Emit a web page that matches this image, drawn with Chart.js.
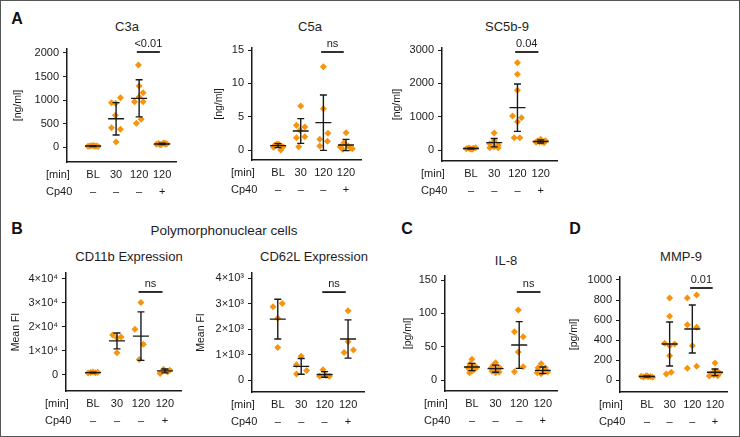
<!DOCTYPE html>
<html>
<head>
<meta charset="utf-8">
<script src="https://cdn.jsdelivr.net/npm/chart.js@4.4.1/dist/chart.umd.min.js"></script>
<style>
  body { margin: 0; background: #fff; font-family: "Liberation Sans", Arial, Helvetica, sans-serif; }
  #fig { position: relative; width: 740px; height: 437px; box-sizing: border-box; border: 1px solid #555; overflow: hidden; }
  .lbl { position: absolute; transform: translate(-50%, -50%); white-space: nowrap; color: #1e1e1e; font-size: 13px; }
  .letter { position: absolute; transform: translate(-50%, -50%); font-weight: bold; font-size: 16px; color: #111; }
</style>
</head>
<body>
<div id="fig">
  <div class="letter" style="left:16px;top:18px">A</div>
  <div class="letter" style="left:16px;top:228px">B</div>
  <div class="letter" style="left:406px;top:228px">C</div>
  <div class="letter" style="left:574px;top:228px">D</div>
  <div class="lbl" style="left:126px;top:25px">C3a</div>
  <div class="lbl" style="left:309px;top:25px">C5a</div>
  <div class="lbl" style="left:506px;top:25px">SC5b-9</div>
  <div class="lbl" style="left:223px;top:229px;font-size:13.5px">Polymorphonuclear cells</div>
  <div class="lbl" style="left:128px;top:255px">CD11b Expression</div>
  <div class="lbl" style="left:313px;top:255px">CD62L Expression</div>
  <div class="lbl" style="left:505px;top:259px">IL-8</div>
  <div class="lbl" style="left:680px;top:255px">MMP-9</div>
</div>
<script>
// categories shared by every panel
const categories = ['BL', '30', '120', '120'];
const cp40 = ['–', '–', '–', '+'];

// C3a [ng/ml]
const c3aValues = [
  [15, 20, 25, 30, 18, 22, 10, 28],
  [943, 930, 1049, 674, 411, 377, 106],
  [1745, 1298, 1155, 964, 964, 1064, 589, 504],
  [60, 75, 50, 85, 65, 70, 55, 80]
];
const c3aJitter = [
  [-0.22, -0.15, -0.08, 0, 0.08, 0.15, 0.22, 0.05],
  [-0.2, -0.02, 0.19, -0.03, -0.2, 0.19, 0],
  [-0.03, 0, 0.17, -0.2, 0.17, 0, 0.09, -0.12],
  [-0.25, -0.15, -0.05, 0.05, 0.15, 0.2, -0.1, 0.1]
];
const c3aMean = [20, 600, 1035, 65];
const c3aSd = [8, 344, 395, 15];
const c3aTicks = [0, 500, 1000, 1500, 2000];

// C5a [ng/ml]
const c5aValues = [
  [0.7, 0.85, 0.0, 0.5, 0.9, 0.6, 0.4],
  [6.6, 3.7, 3.45, 2.95, 2.0, 1.85, 0.5],
  [12.5, 6.2, 1.6, 2.5, 1.3, 0.6],
  [2.6, 1.1, 0.5, 0.3, 0.1, 0.6, 0.2]
];
const c5aJitter = [
  [-0.15, 0.03, 0.12, 0.22, -0.05, 0.1, -0.2],
  [0, -0.19, 0.18, -0.04, 0.18, -0.19, -0.09],
  [0, 0, -0.16, 0.2, 0.18, -0.16],
  [0, -0.09, -0.26, 0.2, -0.15, 0.1, 0.28]
];
const c5aMean = [0.65, 2.85, 4.1, 0.75];
const c5aSd = [0.3, 1.85, 4.15, 0.85];
const c5aTicks = [0, 5, 10, 15];

// SC5b-9 [ng/ml]
const sc5b9Values = [
  [40, 60, 30, 50, 70, 20, 45],
  [510, 270, 190, 150, 100, 70, 70],
  [2620, 2270, 1790, 1020, 970, 850, 370, 370],
  [320, 270, 220, 250, 240, 280, 230]
];
const sc5b9Jitter = [
  [-0.2, -0.1, 0, 0.1, 0.2, 0.05, -0.05],
  [0, 0, -0.19, 0.17, 0, -0.19, 0.17],
  [0, 0, 0, -0.21, 0.17, 0, -0.14, 0.1],
  [0, -0.14, 0.14, 0.05, -0.05, 0.2, -0.2]
];
const sc5b9Mean = [45, 220, 1270, 255];
const sc5b9Sd = [20, 125, 710, 50];
const sc5b9Ticks = [0, 1000, 2000, 3000];

// CD11b expression, mean FI
const cd11bValues = [
  [800, 1000, 1200, 900, 1100],
  [16700, 15500, 15800, 9300],
  [30200, 19100, 12800, 6500],
  [2400, 600, 1400, 2000]
];
const cd11bJitter = [
  [-0.2, -0.1, 0, 0.1, 0.2],
  [-0.18, 0, 0.17, 0],
  [0, -0.25, 0.1, -0.07],
  [-0.06, -0.2, 0.11, 0.2]
];
const cd11bMean = [1000, 14200, 16200, 1700];
const cd11bSd = [200, 3300, 10100, 800];
const cd11bTicks = [0, 10000, 20000, 30000, 40000];
const cd11bTickLabels = ['0', '1×10⁴', '2×10⁴', '3×10⁴', '4×10⁴'];

// CD62L expression, mean FI
const cd62lValues = [
  [2880, 3000, 2420, 1280],
  [930, 600, 370, 235],
  [405, 145, 175, 145],
  [2720, 1500, 1085, 1180]
];
const cd62lJitter = [
  [-0.2, 0.19, 0, 0],
  [0, -0.2, 0.23, -0.2],
  [-0.07, -0.21, 0.05, 0.2],
  [0, 0, -0.17, 0.23]
];
const cd62lMean = [2390, 535, 218, 1610];
const cd62lSd = [780, 310, 110, 750];
const cd62lTicks = [0, 1000, 2000, 3000, 4000];
const cd62lTickLabels = ['0', '1×10³', '2×10³', '3×10³', '4×10³'];

// IL-8 [pg/ml]
const il8Values = [
  [31, 21, 18.5, 18.5, 13.5, 11, 16, 24],
  [26, 22, 18.5, 18.5, 15, 11, 13, 12],
  [105, 72.5, 65, 42, 20, 12.5],
  [24.5, 18.5, 18.5, 14, 11, 9.5, 12]
];
const il8Jitter = [
  [0, 0.12, -0.17, 0.18, 0, -0.1, 0.1, -0.08],
  [0, -0.1, -0.18, 0.17, 0.05, 0, -0.15, 0.15],
  [-0.04, -0.2, 0.17, -0.04, 0.17, -0.2],
  [-0.07, -0.2, 0.1, 0.05, -0.24, -0.07, 0.2]
];
const il8Mean = [19.5, 17, 52.5, 14.5];
const il8Sd = [5.5, 5.3, 35, 5];
const il8Ticks = [0, 50, 100, 150];

// MMP-9 [pg/ml]
const mmp9Values = [
  [37, 30, 40, 33, 35, 28, 42],
  [820, 637, 367, 360, 343, 243, 77, 60],
  [820, 850, 553, 527, 343, 137, 117],
  [170, 93, 60, 43, 50, 70, 40, 80]
];
const mmp9Jitter = [
  [-0.25, -0.15, -0.05, 0.05, 0.15, 0.25, 0],
  [0, 0, -0.22, 0.22, 0, 0, 0.07, -0.15],
  [-0.22, 0.19, -0.22, 0.19, 0, 0.19, -0.22],
  [0, 0, -0.18, 0.12, -0.05, 0.2, -0.25, 0.1]
];
const mmp9Mean = [35, 360, 510, 77];
const mmp9Sd = [5, 220, 240, 33];
const mmp9Ticks = [0, 200, 400, 600, 800, 1000];

const orange = '#F7940F';
const ink = '#1a1a1a';
const FONT = '"Liberation Sans", Arial, Helvetica, sans-serif';
Chart.defaults.font.family = FONT;
Chart.defaults.color = ink;

const fig = document.getElementById('fig');

function summaryPlugin(p) {
  return {
    id: 'summary',
    afterDatasetsDraw(chart) {
      const { ctx, scales: { x, y } } = chart;
      ctx.save();
      ctx.strokeStyle = ink;
      ctx.lineWidth = 1.4;
      // mean and SD bars
      p.means.forEach((m, g) => {
        const cx = x.getPixelForValue(g + 1);
        const yt = y.getPixelForValue(m + p.sds[g]);
        const yb = y.getPixelForValue(m - p.sds[g]);
        const ym = y.getPixelForValue(m);
        ctx.beginPath();
        ctx.moveTo(cx, yt); ctx.lineTo(cx, yb);
        ctx.moveTo(cx - 3.5, yt); ctx.lineTo(cx + 3.5, yt);
        ctx.moveTo(cx - 3.5, yb); ctx.lineTo(cx + 3.5, yb);
        ctx.moveTo(cx - 8, ym); ctx.lineTo(cx + 8, ym);
        ctx.stroke();
      });
      // significance bar between 120 min with and without Cp40
      const sx1 = x.getPixelForValue(2.9), sx2 = x.getPixelForValue(3.9);
      const sy = y.getPixelForValue(p.sigY);
      ctx.lineWidth = 1.8;
      ctx.beginPath(); ctx.moveTo(sx1, sy); ctx.lineTo(sx2, sy); ctx.stroke();
      ctx.fillStyle = ink;
      ctx.font = '11px ' + FONT;
      ctx.textAlign = 'center';
      ctx.textBaseline = 'middle';
      ctx.fillText(p.sigText, (sx1 + sx2) / 2, sy - 8);
      // row labels left of the x ticks
      ctx.textAlign = 'left';
      const ax = chart.chartArea.left - 21, by = chart.chartArea.bottom;
      ctx.fillText('[min]', ax, by + 13);
      ctx.fillText('Cp40', ax, by + 30);
      ctx.restore();
    }
  };
}

function makePanel(p) {
  const left = p.yTitleX - 6;
  const top = p.top - 22;
  const w = p.right + 4 - left;
  const h = p.axisY + 40 - top;
  const canvas = document.createElement('canvas');
  canvas.width = w;
  canvas.height = h;
  canvas.style.cssText = 'position:absolute;left:' + left + 'px;top:' + top + 'px;width:' + w + 'px;height:' + h + 'px';
  fig.appendChild(canvas);

  let points = [];
  p.values.forEach((grp, g) => {
    grp.forEach((v, k) => points.push({ x: g + 1 + p.jitter[g][k], y: v }));
  });

  new Chart(canvas, {
    type: 'scatter',
    data: {
      datasets: [{
        data: points,
        pointStyle: 'rectRot',
        pointRadius: 3.5,
        pointHoverRadius: 3.5,
        backgroundColor: orange,
        borderWidth: 0
      }]
    },
    options: {
      responsive: false,
      animation: false,
      events: [],
      layout: { padding: { top: 22, right: 4, left: 0, bottom: 0 } },
      plugins: { legend: { display: false }, tooltip: { enabled: false } },
      scales: {
        x: {
          type: 'linear',
          min: p.xMin,
          max: p.xMax,
          afterBuildTicks: s => { s.ticks = [1, 2, 3, 4].map(v => ({ value: v })); },
          afterFit: s => { s.height = 40; s.paddingLeft = 0; s.paddingRight = 0; },
          grid: { display: false, drawTicks: false },
          border: { display: true, color: ink, width: 1.5 },
          ticks: {
            padding: 4.5,
            maxRotation: 0,
            autoSkip: false,
            color: ink,
            font: { size: 11, lineHeight: 1.545 },
            callback: v => [categories[v - 1], cp40[v - 1]]
          }
        },
        y: {
          type: 'linear',
          min: p.yMin,
          max: p.yMax,
          afterBuildTicks: s => { s.ticks = p.yTicks.map(v => ({ value: v })); },
          afterFit: s => { s.width = p.axisX - left; s.paddingTop = 0; s.paddingBottom = 0; },
          grid: { display: true, drawOnChartArea: false, drawTicks: true, tickLength: 4, color: ink, lineWidth: 1 },
          border: { display: true, color: ink, width: 1.5 },
          ticks: {
            padding: 4,
            color: ink,
            font: { size: 11 },
            callback: (v, i) => p.yLabels ? p.yLabels[i] : String(v)
          },
          title: { display: true, text: p.yTitle, color: ink, font: { size: 10.5 }, padding: 0 }
        }
      }
    },
    plugins: [summaryPlugin(p)]
  });
}

makePanel({ values: c3aValues, jitter: c3aJitter, means: c3aMean, sds: c3aSd,
  yTicks: c3aTicks, yTitle: '[ng/ml]', sigY: 2021, sigText: '<0.01',
  yTitleX: 17, axisX: 66, top: 48, axisY: 161, right: 175,
  xMin: -0.13, xMax: 4.6, yMin: -319, yMax: 2085 });

makePanel({ values: c5aValues, jitter: c5aJitter, means: c5aMean, sds: c5aSd,
  yTicks: c5aTicks, yTitle: '[ng/ml]', sigY: 14.7, sigText: 'ns',
  yTitleX: 218, axisX: 251, top: 47, axisY: 159, right: 360,
  xMin: -0.15, xMax: 4.66, yMin: -1.5, yMax: 15.3 });

makePanel({ values: sc5b9Values, jitter: sc5b9Jitter, means: sc5b9Mean, sds: sc5b9Sd,
  yTicks: sc5b9Ticks, yTitle: '[ng/ml]', sigY: 2940, sigText: '0.04',
  yTitleX: 396, axisX: 441, top: 47, axisY: 160, right: 556,
  xMin: -0.245, xMax: 4.7, yMin: -330, yMax: 3060 });

makePanel({ values: cd11bValues, jitter: cd11bJitter, means: cd11bMean, sds: cd11bSd,
  yTicks: cd11bTicks, yLabels: cd11bTickLabels, yTitle: 'Mean FI', sigY: 34600, sigText: 'ns',
  yTitleX: 15, axisX: 65, top: 272, axisY: 390, right: 180,
  xMin: -0.125, xMax: 4.67, yMin: -6670, yMax: 42500 });

makePanel({ values: cd62lValues, jitter: cd62lJitter, means: cd62lMean, sds: cd62lSd,
  yTicks: cd62lTicks, yLabels: cd62lTickLabels, yTitle: 'Mean FI', sigY: 3450, sigText: 'ns',
  yTitleX: 200, axisX: 251, top: 272, axisY: 391, right: 363,
  xMin: -0.1, xMax: 4.68, yMin: -470, yMax: 4200 });

makePanel({ values: il8Values, jitter: il8Jitter, means: il8Mean, sds: il8Sd,
  yTicks: il8Ticks, yTitle: '[pg/ml]', sigY: 132, sigText: 'ns',
  yTitleX: 407, axisX: 444, top: 275, axisY: 390, right: 556,
  xMin: -0.14, xMax: 4.6, yMin: -16.5, yMax: 156 });

makePanel({ values: mmp9Values, jitter: mmp9Jitter, means: mmp9Mean, sds: mmp9Sd,
  yTicks: mmp9Ticks, yTitle: '[pg/ml]', sigY: 920, sigText: '0.01',
  yTitleX: 573, axisX: 619, top: 276, axisY: 391, right: 726,
  xMin: -0.19, xMax: 4.53, yMin: -120, yMax: 1030 });
</script>
</body>
</html>
